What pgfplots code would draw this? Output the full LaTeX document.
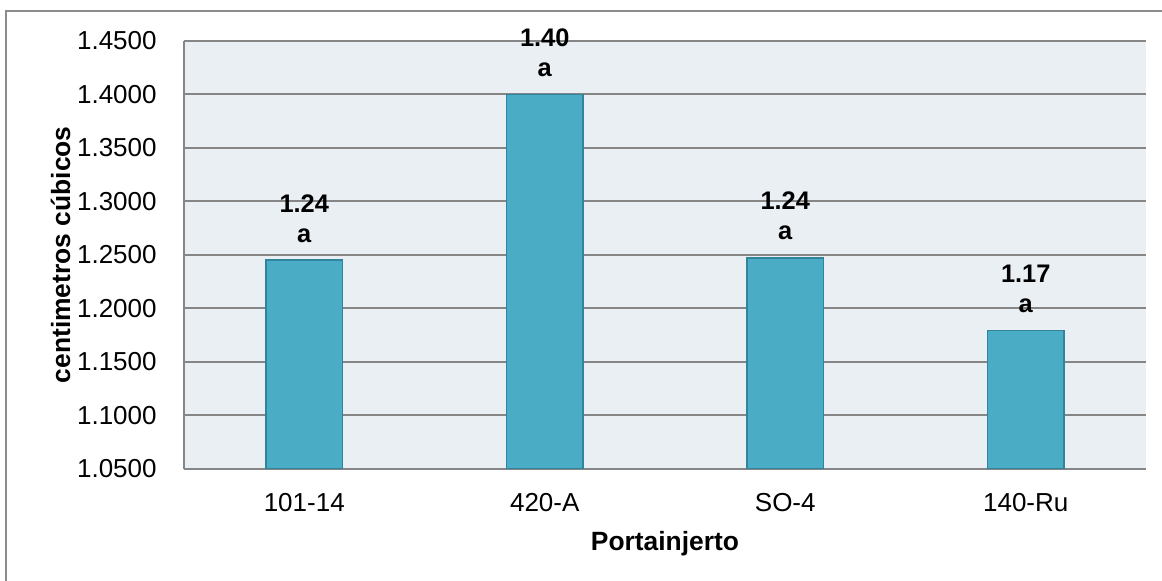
\documentclass[border=0pt]{standalone}
\usepackage{fontspec}
\setmainfont{Liberation Sans}
\usepackage{pgfplots}
\usepackage{pgfplotstable}
\pgfplotsset{compat=1.18}
\definecolor{barfill}{HTML}{4BACC6}
\definecolor{baredge}{HTML}{31849B}
\definecolor{plotbg}{HTML}{E9EFF3}
\definecolor{gridgray}{HTML}{868686}
\definecolor{framegray}{HTML}{8C8C8C}
\pgfplotstableread{
x y label
0 1.245 1.24
1 1.400 1.40
2 1.247 1.24
3 1.179 1.17
}\datatable
\begin{document}
\begin{tikzpicture}
\useasboundingbox (0,0) rectangle (581pt,290pt);
\draw[framegray, line width=1pt] (3pt,-20pt) -- (3pt,284.5pt) -- (620pt,284.5pt);
\begin{axis}[
  at={(92pt,55.75pt)}, anchor=south west,
  scale only axis, width=481pt, height=213.75pt,
  xmin=-0.5, xmax=3.5, ymin=1.05, ymax=1.45,
  axis x line*=bottom, axis y line*=left,
  axis line style={gridgray, line width=1pt},
  ymajorgrids, grid style={gridgray, line width=1pt},
  major tick length=0pt,
  xtick={0,1,2,3}, xticklabels={101-14,420-A,SO-4,140-Ru},
  ytick={1.05,1.1,1.15,1.2,1.25,1.3,1.35,1.4,1.45},
  tick label style={font=\fontsize{13}{15.6}\selectfont, black},
  yticklabel style={anchor=east, inner sep=0pt, xshift=-13.5pt,
    /pgf/number format/.cd, fixed, fixed zerofill, precision=4, assume math mode=true},
  xticklabel style={anchor=base, inner sep=0pt, yshift=-21.25pt},
  xlabel={Portainjerto}, ylabel={centimetros cúbicos},
  label style={font=\bfseries\fontsize{13.2}{15.8}\selectfont},
  xlabel style={at={(axis description cs:0.5,0)}, anchor=base, inner sep=0pt, yshift=-40.75pt},
  ylabel style={at={(axis description cs:-0.1185,0.5)}, anchor=base, inner sep=0pt},
  axis background/.style={fill=plotbg},
  clip=false,
]
\addplot[ybar, bar width=38.25pt, fill=barfill, draw=baredge, line width=0.75pt,
  point meta=explicit symbolic,
  nodes near coords={\pgfplotspointmeta\\a},
  nodes near coords style={font=\bfseries\fontsize{12.7}{15}\selectfont, align=center, anchor=south, inner sep=0pt, yshift=8.5pt, black}]
  table[x=x, y=y, meta=label]{\datatable};
\end{axis}
\end{tikzpicture}
\end{document}
